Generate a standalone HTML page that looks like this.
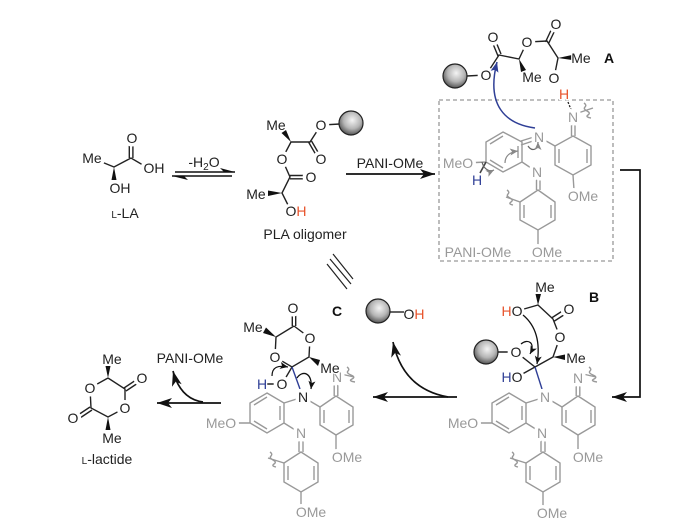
<!DOCTYPE html>
<html>
<head>
<meta charset="utf-8">
<style>
html,body{margin:0;padding:0;background:#fff;width:700px;height:531px;overflow:hidden}
svg{display:block;filter:blur(.35px)}
text{font-family:"Liberation Sans",sans-serif;font-size:14px;text-anchor:middle;fill:#222;stroke:#fff;stroke-width:7px;paint-order:stroke;stroke-linejoin:round}
text.m{stroke-width:2.5px}
text.n{stroke:none}
.g{fill:#999}
.b{font-weight:bold;fill:#111}
.k{fill:none;stroke:#222;stroke-width:1.4}
.y{fill:none;stroke:#999;stroke-width:1.4}
.a{fill:none;stroke:#111;stroke-width:1.7}
.r{fill:#e8532b}
.u{fill:#2f3f96}
</style>
</head>
<body>
<svg width="700" height="531" viewBox="0 0 700 531" xmlns="http://www.w3.org/2000/svg">
<defs>
<radialGradient id="ball" cx=".55" cy=".38" r=".65">
<stop offset="0" stop-color="#f4f4f4"/><stop offset=".55" stop-color="#b5b5b5"/><stop offset="1" stop-color="#4a4a4a"/>
</radialGradient>
<marker id="big" markerUnits="userSpaceOnUse" markerWidth="18" markerHeight="12" refX="16" refY="6" orient="auto">
<path d="M16,6 L1,1 L5,6 L1,11 Z" fill="#111"/>
</marker>
<marker id="sm" markerUnits="userSpaceOnUse" markerWidth="10" markerHeight="8" refX="9" refY="4" orient="auto">
<path d="M9,4 L1,.5 L3,4 L1,7.5 Z" fill="#111"/>
</marker>
<marker id="sg" markerUnits="userSpaceOnUse" markerWidth="10" markerHeight="8" refX="9" refY="4" orient="auto">
<path d="M9,4 L1,.5 L3,4 L1,7.5 Z" fill="#888"/>
</marker>
<marker id="bl" markerUnits="userSpaceOnUse" markerWidth="12" markerHeight="10" refX="11" refY="5" orient="auto">
<path d="M11,5 L1,1 L3,5 L1,9 Z" fill="#2f3f96"/>
</marker>
<g id="frag">
<path class="y" d="M509,393 L526,403 L526,423 L509,433 L492,423 L492,403 Z M496,405 L509,397 M522,406 L522,420 M496,421 L509,429 M477,423 L492,423 M526,403 L545,397 L562,407 M526,423 L542,433 M541,433 L541,452 M545,433 L545,452"/>
<path class="y" d="M543,452 L560,463 L560,482 L543,492 L526,482 L526,463 Z M556,466 L556,480 M530,466 L530,480 M543,492 L543,506 M526,463 L510,458 M512,452 q3,2 1,4 t2,4 t1,4 t2,3"/>
<path class="y" d="M578,396 L595,407 L595,425 L578,435 L562,425 L562,407 Z M591,410 L591,423 M566,410 L566,423 M578,435 L578,450 M576.2,380 L576.2,396 M579.8,380 L579.8,396 M583,374 L596,377 M589,367 q3,2 1,4 t3,4 t1,4 t3,3"/>
</g>
</defs>

<!-- L-LA -->
<path class="k" d="M92,158 L114,167 L131,158 L148,168 M129.3,158 L129.3,140 M132.9,158 L132.9,140"/>
<polygon points="114,167 111.5,180 116.5,180" fill="#111"/>
<text x="92" y="163">Me</text>
<text x="132" y="143">O</text>
<text x="154" y="173">OH</text>
<text class="m" x="120" y="193">OH</text>
<text class="n" x="125" y="218"><tspan font-size="10">L</tspan>-LA</text>

<!-- equilibrium -->
<path class="a" d="M175,172 L235,172 M232,176 L172,176" style="stroke-width:1.5"/>
<polygon points="235,172 220,168 224,172" fill="#111"/>
<polygon points="172,176 188,180 184,176" fill="#111"/>
<text class="n" x="204" y="167">-H<tspan font-size="10" dy="3">2</tspan><tspan dy="-3">O</tspan></text>

<!-- PLA oligomer -->
<path class="k" d="M340,124 L321,125 L310,142 L291,142 L282,159 L290,177 L282,193 L291,211 M308.5,142 L319,160 M311.5,141 L322,159 M290,175.5 L311,175.5 M290,178.8 L311,178.8"/>
<polygon points="291,142 281.5,133 286,130" fill="#111"/>
<polygon points="282,193 268,190.5 268,196" fill="#111"/>
<circle cx="351" cy="123" r="12" fill="url(#ball)" stroke="#222" stroke-width="1.2"/>
<text x="321" y="130">O</text>
<text class="m" x="276" y="130">Me</text>
<text x="321" y="164">O</text>
<text x="282" y="164">O</text>
<text x="311" y="182">O</text>
<text class="m" x="256" y="199">Me</text>
<circle cx="291" cy="211" r="7.5" fill="#fff"/>
<text class="n" x="296" y="216">O<tspan class="r">H</tspan></text>
<text class="n" x="305" y="239">PLA oligomer</text>

<!-- PANI arrow -->
<path class="a" d="M346,174 L435,174" marker-end="url(#big)"/>
<text class="n" x="390" y="168">PANI-OMe</text>

<!-- Box A -->
<rect x="439" y="100" width="174" height="161" fill="none" stroke="#999" stroke-width="1.3" stroke-dasharray="4,3"/>
<path class="y" d="M503,132 L522,142 L522,162 L503,172 L486,162 L486,142 Z M490,144 L503,136 M518,146 L518,158 M490,160 L503,168 M466,163 L486,162 M522,162 L537,172 M536.5,172 L536.5,190 M540,172 L540,190 M521,141 L537,136 M521,145 L533,141 M539,137 L555,146"/>
<path class="y" d="M538,190 L555,202 L555,220 L538,230 L520,220 L520,202 Z M551,205 L551,218 M524,205 L524,218 M538,230 L538,245 M520,202 L506,197 M507,190 q3,2 1,4 t2,4 t1,4 t2,3"/>
<path class="y" d="M573,136 L591,146 L591,165 L573,175 L555,165 L555,146 Z M587,149 L587,163 M559,149 L559,163 M573,175 L574,190 M571.5,120 L571.5,136 M575,120 L575,136 M578,113 L593,108 M584,103 q3,2 1,4 t2,4 t1,4 t3,3"/>
<path d="M486,162 L480,173" stroke="#444" stroke-width="1.6" fill="none"/>

<!-- A molecule -->
<path class="k" d="M467,76 L486,75 L499,55 L519,59 L527,42 L547,41 L558,58 L554,78 M498,56 L491,39 M501,54 L494,37 M545.5,42 L553.5,25 M548.8,43 L557,26"/>
<polygon points="519,59 521,72 526,70" fill="#111"/>
<polygon points="558,58 572,55 572,60" fill="#111"/>
<path d="M568,102 L572,112" stroke="#222" stroke-width="1.3" stroke-dasharray="2,1.5" fill="none"/>
<circle cx="455" cy="76" r="12" fill="url(#ball)" stroke="#222" stroke-width="1.2"/>
<text x="486" y="80">O</text>
<text x="493" y="42">O</text>
<text class="m" x="532" y="82">Me</text>
<text x="527" y="47">O</text>
<text x="556" y="29">O</text>
<text class="m" x="581" y="63">Me</text>
<text x="554" y="83">O</text>
<text class="r m" x="564" y="99">H</text>
<text class="b n" x="609" y="63">A</text>
<text class="g" x="573" y="122">N</text>
<text class="g" x="539" y="142">N</text>
<text class="g" x="537" y="177">N</text>
<text class="g" x="458" y="168">MeO</text>
<text class="u m" x="477" y="185">H</text>
<text class="g" x="583" y="201">OMe</text>
<text class="g" x="547" y="257">OMe</text>
<text class="g n" x="478" y="257">PANI-OMe</text>
<path d="M535,128 C505,124 486,105 497,62" fill="none" stroke="#2f3f96" stroke-width="1.5" marker-end="url(#bl)"/>
<path d="M505,163 C505,156 510,152 518,151" fill="none" stroke="#888" stroke-width="1.2" marker-end="url(#sg)"/>
<path d="M528,146 C532,152 538,150 538,142" fill="none" stroke="#666" stroke-width="1.2" marker-end="url(#sg)"/>
<path d="M482,162 C484,170 490,172 494,170" fill="none" stroke="#666" stroke-width="1.2" marker-end="url(#sg)"/>

<!-- Right connector -->
<path class="a" d="M620,170 L640,170 L640,397 L612,397" marker-end="url(#big)"/>

<!-- B -->
<use href="#frag"/>
<path class="k" d="M498,352 L516,352 L535,367 L553,357 L560,337 L553,319 L538,305 L517,311 M535,367 L517,377 M551.5,318 L567,308 M554.5,321 L570,311"/>
<path d="M535,367 L542,389" stroke="#2f3f96" stroke-width="1.4" fill="none"/>
<polygon points="538,305 535.5,294 541,294" fill="#111"/>
<polygon points="553,357 565,354.5 565,360" fill="#111"/>
<circle cx="486" cy="352" r="12" fill="url(#ball)" stroke="#222" stroke-width="1.2"/>
<text x="516" y="357">O</text>
<text x="569" y="314">O</text>
<text x="560" y="342">O</text>
<text class="m" x="545" y="292">Me</text>
<circle cx="517" cy="311" r="7.5" fill="#fff"/>
<text class="n" x="512" y="316"><tspan class="r">H</tspan>O</text>
<text class="m" x="576" y="363">Me</text>
<circle cx="517" cy="377" r="7.5" fill="#fff"/>
<text class="n" x="512" y="382"><tspan class="u">H</tspan>O</text>
<text class="b n" x="594" y="302">B</text>
<text class="g" x="545" y="402">N</text>
<text class="g" x="578" y="383">N</text>
<text class="g" x="542" y="438">N</text>
<text class="g" x="463" y="428">MeO</text>
<text class="g" x="588" y="462">OMe</text>
<text class="g" x="552" y="518">OMe</text>
<path d="M523,315 C535,325 541,340 537,364" fill="none" stroke="#111" stroke-width="1.3" marker-end="url(#sm)"/>
<path d="M521,344 C528,338 536,343 530,354" fill="none" stroke="#111" stroke-width="1.2" marker-end="url(#sm)"/>

<!-- C -->
<use href="#frag" transform="translate(-242,0)"/>
<path class="k" d="M294,326 L276,337 L275,357 L292,367 L309,357 L310,338 L294,326 M292.3,326 L292.3,310 M295.7,326 L295.7,310 M292,367 L282,384 M267,384 L277,384"/>
<path d="M292,367 L300,389" stroke="#2f3f96" stroke-width="1.4" fill="none"/>
<polygon points="276,337 263,333 266,327.5" fill="#111"/>
<polygon points="309,357 320,360 318,366" fill="#111"/>
<text class="g" x="337" y="382">N</text>
<text x="293" y="313">O</text>
<text class="m" x="253" y="332">Me</text>
<text x="275" y="362">O</text>
<text x="310" y="343">O</text>
<text class="m" x="330" y="373">Me</text>
<text class="u m" x="262" y="389">H</text>
<text x="282" y="389">O</text>
<text class="b n" x="337" y="316">C</text>
<text x="303" y="402">N</text>
<text class="g" x="301" y="438">N</text>
<text class="g" x="221" y="428">MeO</text>
<text class="g" x="347" y="462">OMe</text>
<text class="g" x="311" y="517">OMe</text>
<path d="M272,376 C272,367 278,365 288,367" fill="none" stroke="#111" stroke-width="1.2" marker-end="url(#sm)"/>
<path d="M297,378 C302,370 313,372 311,389" fill="none" stroke="#111" stroke-width="1.3" marker-end="url(#sm)"/>

<!-- Triple -->
<path class="k" d="M333,254 L353,279 M330,259 L351,284 M327,264 L347,289" style="stroke-width:1.2"/>

<!-- Ball OH -->
<path class="k" d="M390,312 L404,312"/>
<circle cx="378" cy="311" r="12" fill="url(#ball)" stroke="#222" stroke-width="1.2"/>
<text class="n" x="414" y="319">O<tspan class="r">H</tspan></text>

<!-- Arrows lower -->
<path class="a" d="M457,397 L373,397" marker-end="url(#big)"/>
<path class="a" d="M448,397 C420,392 400,375 393,342" marker-end="url(#big)"/>
<path class="a" d="M221,403 L157,403" marker-end="url(#big)"/>
<path class="a" d="M203,402 C188,400 178,390 173,371" marker-end="url(#big)"/>
<text class="n" x="190" y="363">PANI-OMe</text>

<!-- L-lactide -->
<path class="k" d="M108,378 L125,389 L125,408 L108,417 L91,408 L90,388 L108,378 M124,388 L139,378 M126,391 L141,381 M90,407 L75,417 M92,410 L77,420"/>
<polygon points="108,378 105.5,366 110.5,366" fill="#111"/>
<polygon points="108,417 105.5,430 110.5,430" fill="#111"/>
<text class="m" x="112" y="364">Me</text>
<text x="142" y="383">O</text>
<text x="90" y="393">O</text>
<text x="125" y="413">O</text>
<text x="73" y="423">O</text>
<text class="m" x="112" y="443">Me</text>
<text class="n" x="107" y="464"><tspan font-size="10">L</tspan>-lactide</text>
</svg>
</body>
</html>
